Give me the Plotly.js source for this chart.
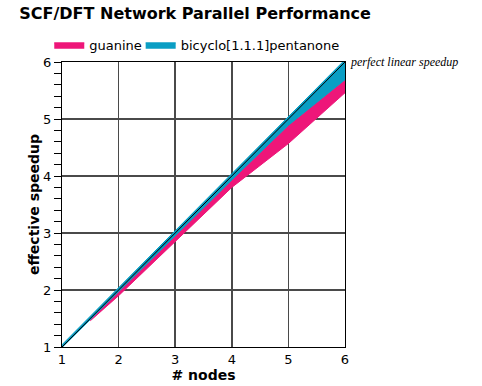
<!DOCTYPE html>
<html>
<head>
<meta charset="utf-8">
<script src="https://cdn.plot.ly/plotly-3.0.1.min.js"></script>
<style>html,body{margin:0;padding:0;background:#fff;}#chart{width:482px;height:386px;}</style>
</head>
<body>
<div id="chart"></div>
<script>
// nodes and speedup ranges
const nodes = [1, 2, 3, 4, 5, 6];
const guanineNodes = [1.5, 2, 3, 4, 5, 6];
const guanineHigh = [1.49, 1.98, 2.95, 3.93, 4.89, 5.69];
const guanineLow  = [1.46, 1.90, 2.85, 3.80, 4.57, 5.46];
const bicycloHigh = [1.04, 2.04, 3.03, 4.03, 5.03, 6.04];
const bicycloLow  = [0.99, 1.97, 2.95, 3.93, 4.89, 5.69];
const idealSpeedup = [1, 2, 3, 4, 5, 6];
const xTicks = [1, 2, 3, 4, 5, 6];
const yTicks = [1, 2, 3, 4, 5, 6];

const pink = '#EE1679';
const teal = '#0A9EC4';

function band(xs, hi, lo) {
  return {
    x: xs.concat(xs.slice().reverse()),
    y: hi.concat(lo.slice().reverse())
  };
}
const g = band(guanineNodes, guanineHigh, guanineLow);
const b = band(nodes, bicycloHigh, bicycloLow);

const traces = [
  {x: g.x, y: g.y, type: 'scatter', mode: 'lines', fill: 'toself', fillcolor: pink,
   line: {color: pink, width: 1}, name: 'guanine', hoverinfo: 'skip', legend: 'legend'},
  {x: b.x, y: b.y, type: 'scatter', mode: 'lines', fill: 'toself', fillcolor: teal,
   line: {color: teal, width: 1}, name: 'bicyclo[1.1.1]pentanone', hoverinfo: 'skip', legend: 'legend2'},
  {x: nodes, y: idealSpeedup, type: 'scatter', mode: 'lines',
   line: {color: '#000', width: 1}, showlegend: false, hoverinfo: 'skip'}
];

const legendFont = {family: 'DejaVu Sans', size: 13, color: '#000'};
const layout = {
  width: 482, height: 386,
  margin: {l: 62, r: 137, t: 62, b: 39},
  paper_bgcolor: '#fff', plot_bgcolor: '#fff',
  title: {text: 'SCF/DFT Network Parallel Performance', x: 0.04, xanchor: 'left', y: 0.965, yanchor: 'middle',
          font: {family: 'DejaVu Sans', size: 16, color: '#000', weight: 'bold'}},
  showlegend: true,
  legend: {orientation: 'h', x: -0.045, xanchor: 'left', y: 1.06, yanchor: 'middle',
           font: legendFont, bgcolor: 'rgba(0,0,0,0)', itemwidth: 30},
  legend2: {orientation: 'h', x: 0.278, xanchor: 'left', y: 1.06, yanchor: 'middle',
           font: legendFont, bgcolor: 'rgba(0,0,0,0)', itemwidth: 30},
  xaxis: {range: [1, 6], tickvals: xTicks, ticktext: xTicks.map(String),
          showgrid: true, gridcolor: '#4a4a4a', gridwidth: 1.5, zeroline: false,
          showline: true, linecolor: '#000', linewidth: 1, mirror: true, ticks: '',
          tickfont: {family: 'DejaVu Sans', size: 13, color: '#000'},
          title: {text: '# nodes', standoff: 4, font: {family: 'DejaVu Sans', size: 14, color: '#000', weight: 'bold'}}},
  yaxis: {range: [1, 6], tickvals: yTicks, ticktext: yTicks.map(String),
          showgrid: true, gridcolor: '#4a4a4a', gridwidth: 1.5, zeroline: false,
          showline: true, linecolor: '#000', linewidth: 1, mirror: true,
          ticks: 'outside', ticklen: 7, tickcolor: '#000', tickwidth: 1,
          minor: {dtick: 0.2, ticks: 'outside', ticklen: 7, tickcolor: '#000', tickwidth: 1, showgrid: false},
          tickfont: {family: 'DejaVu Sans', size: 13, color: '#000'},
          title: {text: 'effective speedup', standoff: 0, font: {family: 'DejaVu Sans', size: 14, color: '#000', weight: 'bold'}}},
  annotations: [
    {x: 6, y: 6, xref: 'x', yref: 'y', text: 'perfect linear speedup', showarrow: false,
     xanchor: 'left', yanchor: 'middle', xshift: 3,
     font: {family: 'Liberation Serif', size: 12, color: '#000', style: 'italic'}}
  ]
};

Plotly.newPlot('chart', traces, layout, {displayModeBar: false, staticPlot: true});
</script>
</body>
</html>
